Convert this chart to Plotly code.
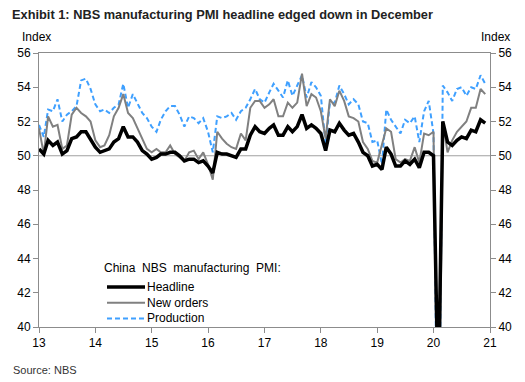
import plotly.graph_objects as go
import pandas as pd

months = pd.date_range("2013-01-01", "2020-12-01", freq="MS")

headline = [
    50.4, 50.1, 50.9, 50.6, 50.8, 50.1, 50.3, 51.0, 51.1, 51.4, 51.4, 51.0,
    50.5, 50.2, 50.3, 50.4, 50.8, 51.0, 51.7, 51.1, 51.1, 50.8, 50.3, 50.1,
    49.8, 49.9, 50.1, 50.1, 50.2, 50.2, 50.0, 49.7, 49.8, 49.8, 49.6, 49.7,
    49.4, 49.0, 50.2, 50.1, 50.1, 50.0, 49.9, 50.4, 50.4, 51.2, 51.7, 51.4,
    51.3, 51.6, 51.8, 51.2, 51.2, 51.7, 51.4, 51.7, 52.4, 51.6, 51.8, 51.6,
    51.3, 50.3, 51.5, 51.4, 51.9, 51.5, 51.2, 51.3, 50.8, 50.2, 50.0, 49.4,
    49.5, 49.2, 50.5, 50.1, 49.4, 49.4, 49.7, 49.5, 49.8, 49.3, 50.2, 50.2,
    50.0, 35.7, 52.0, 50.8, 50.6, 50.9, 51.1, 51.0, 51.5, 51.4, 52.1, 51.9,
]
new_orders = [
    51.6, 50.1, 52.3, 51.7, 51.8, 50.4, 50.6, 52.4, 52.8, 52.5, 52.3, 52.0,
    50.9, 50.5, 50.6, 51.2, 52.3, 52.8, 53.6, 52.5, 52.2, 51.6, 50.9, 50.4,
    50.2, 50.4, 50.2, 50.2, 50.6, 50.1, 49.9, 49.7, 50.2, 50.3, 49.8, 50.2,
    49.5, 48.6, 51.4, 51.0, 50.7, 50.5, 50.4, 51.3, 50.9, 52.8, 53.2, 53.2,
    52.8, 53.0, 53.3, 52.3, 52.3, 53.1, 52.8, 53.1, 54.8, 52.9, 53.6, 53.4,
    52.6, 51.0, 53.3, 52.9, 53.8, 53.2, 52.3, 52.2, 52.0, 50.8, 50.4, 49.7,
    49.6, 50.6, 51.6, 51.4, 49.8, 49.6, 49.8, 49.7, 50.5, 49.6, 51.3, 51.2,
    51.4, 29.3, 52.0, 50.2, 50.9, 51.4, 51.7, 52.0, 52.8, 52.8, 53.9, 53.6,
]
production = [
    51.8, 51.1, 52.7, 52.6, 53.3, 52.0, 52.4, 52.6, 52.9, 54.4, 54.5, 53.9,
    53.0, 52.6, 52.7, 52.5, 52.8, 53.0, 54.2, 52.8, 53.6, 53.1, 52.5, 52.2,
    51.7, 51.4, 52.1, 52.6, 52.9, 52.9, 52.4, 51.7, 52.3, 52.2, 51.9, 52.2,
    51.4, 50.2, 52.3, 52.2, 52.3, 52.5, 52.1, 52.6, 52.8, 53.3, 53.9, 53.3,
    53.1, 53.7, 54.2, 53.8, 53.4, 54.4, 53.5, 54.1, 54.7, 53.4, 54.3, 54.0,
    53.5, 50.7, 53.1, 53.1, 54.1, 53.6, 53.0, 53.3, 53.0, 52.0, 51.9, 50.8,
    50.9, 49.5, 52.7, 52.1, 51.7, 51.3, 52.1, 51.9, 52.3, 50.8, 52.6, 53.2,
    51.3, 27.8, 54.1, 53.7, 53.2, 53.9, 54.0, 53.5, 54.0, 53.9, 54.7, 54.2,
]

series_names = ["Headline", "New orders", "Production"]
y_ticks = [40, 42, 44, 46, 48, 50, 52, 54, 56]
x_ticks = pd.date_range("2013-01-01", "2021-01-01", freq="YS")
x_tick_labels = ["13", "14", "15", "16", "17", "18", "19", "20", "21"]

FONT = "Liberation Sans, Arial, sans-serif"
AXIS_COLOR = "#8c8c8c"
COLORS = {"Headline": "#000000", "New orders": "#808080", "Production": "#3fa0ff"}
WIDTHS = {"Headline": 3.5, "New orders": 2, "Production": 2}
DASHES = {"Headline": "solid", "New orders": "solid", "Production": "5px,3px"}

# page offset: browser body margin is 8px
OFF = 8
W, H = 525 - OFF, 382 - OFF
L, R, T, B = 39 - OFF, 35, 53 - OFF, 55
PW, PH = W - L - R, H - T - B


def px(xp):  # page x pixel -> paper x
    return (xp - OFF - L) / PW


def py(yp):  # page y pixel -> paper y
    return (H - B - (yp - OFF)) / PH


fig = go.Figure()
for name, vals in [("Production", production), ("New orders", new_orders), ("Headline", headline)]:
    fig.add_trace(go.Scatter(x=months, y=vals, name=name, mode="lines", showlegend=False,
                             line=dict(color=COLORS[name], width=WIDTHS[name], dash=DASHES[name])))
fig.add_trace(go.Scatter(x=months, y=headline, yaxis="y2", mode="lines",
                         line=dict(color="rgba(0,0,0,0)", width=0),
                         showlegend=False, hoverinfo="skip"))

shapes = [dict(type="line", xref="paper", x0=0, x1=1, yref="y", y0=50, y1=50,
               line=dict(color="#a0a0a0", width=1), layer="below")]
annotations = [
    dict(text="Index", xref="paper", yref="paper", x=px(36), y=py(37), xanchor="center",
         yanchor="middle", showarrow=False, font=dict(size=12, family=FONT)),
    dict(text="Index", xref="paper", yref="paper", x=px(496), y=py(37), xanchor="center",
         yanchor="middle", showarrow=False, font=dict(size=12, family=FONT)),
    dict(text="Source: NBS", xref="paper", yref="paper", x=px(11), y=py(370), xanchor="left",
         yanchor="middle", showarrow=False, font=dict(size=11, family=FONT, color="#333333")),
    dict(text="China  NBS  manufacturing  PMI:", xref="paper", yref="paper", x=px(102), y=py(268),
         xanchor="left", yanchor="middle", showarrow=False, font=dict(size=12, family=FONT)),
]
for i, name in enumerate(series_names):
    yrow = 287 + i * 15.7
    shapes.append(dict(type="line", xref="paper", yref="paper", x0=px(107), x1=px(145),
                       y0=py(yrow), y1=py(yrow),
                       line=dict(color=COLORS[name], width=WIDTHS[name], dash=DASHES[name])))
    annotations.append(dict(text=name, xref="paper", yref="paper", x=px(145), y=py(yrow),
                            xanchor="left", yanchor="middle", showarrow=False,
                            font=dict(size=12, family=FONT)))

axis_common = dict(
    range=[40, 56], tickvals=y_ticks, ticks="outside", ticklen=5, tickcolor=AXIS_COLOR,
    showline=True, linecolor=AXIS_COLOR, linewidth=1, showgrid=False, zeroline=False,
    tickfont=dict(size=12, color="#000000", family=FONT),
)

fig.update_layout(
    width=W, height=H,
    margin=dict(l=L, r=R, t=T, b=B, autoexpand=False),
    paper_bgcolor="white", plot_bgcolor="white",
    font=dict(family=FONT, size=12, color="#000000"),
    showlegend=False,
    title=dict(text="<b>Exhibit 1: NBS manufacturing PMI headline edged down in December</b>",
               x=(12 - OFF) / W, xanchor="left", y=1 - (15 - OFF) / H, yanchor="middle",
               font=dict(size=12.8, color="#222222", family=FONT)),
    xaxis=dict(
        type="date", range=["2013-01-01", "2021-01-01"],
        tickvals=x_ticks, ticktext=x_tick_labels,
        ticks="outside", ticklen=5, tickcolor=AXIS_COLOR,
        showline=True, linecolor=AXIS_COLOR, linewidth=1, mirror=True,
        showgrid=False, zeroline=False,
        tickfont=dict(size=12, color="#000000", family=FONT),
    ),
    yaxis=dict(**axis_common),
    yaxis2=dict(**axis_common, overlaying="y", side="right"),
    shapes=shapes,
    annotations=annotations,
)

fig.write_html("out.html")
